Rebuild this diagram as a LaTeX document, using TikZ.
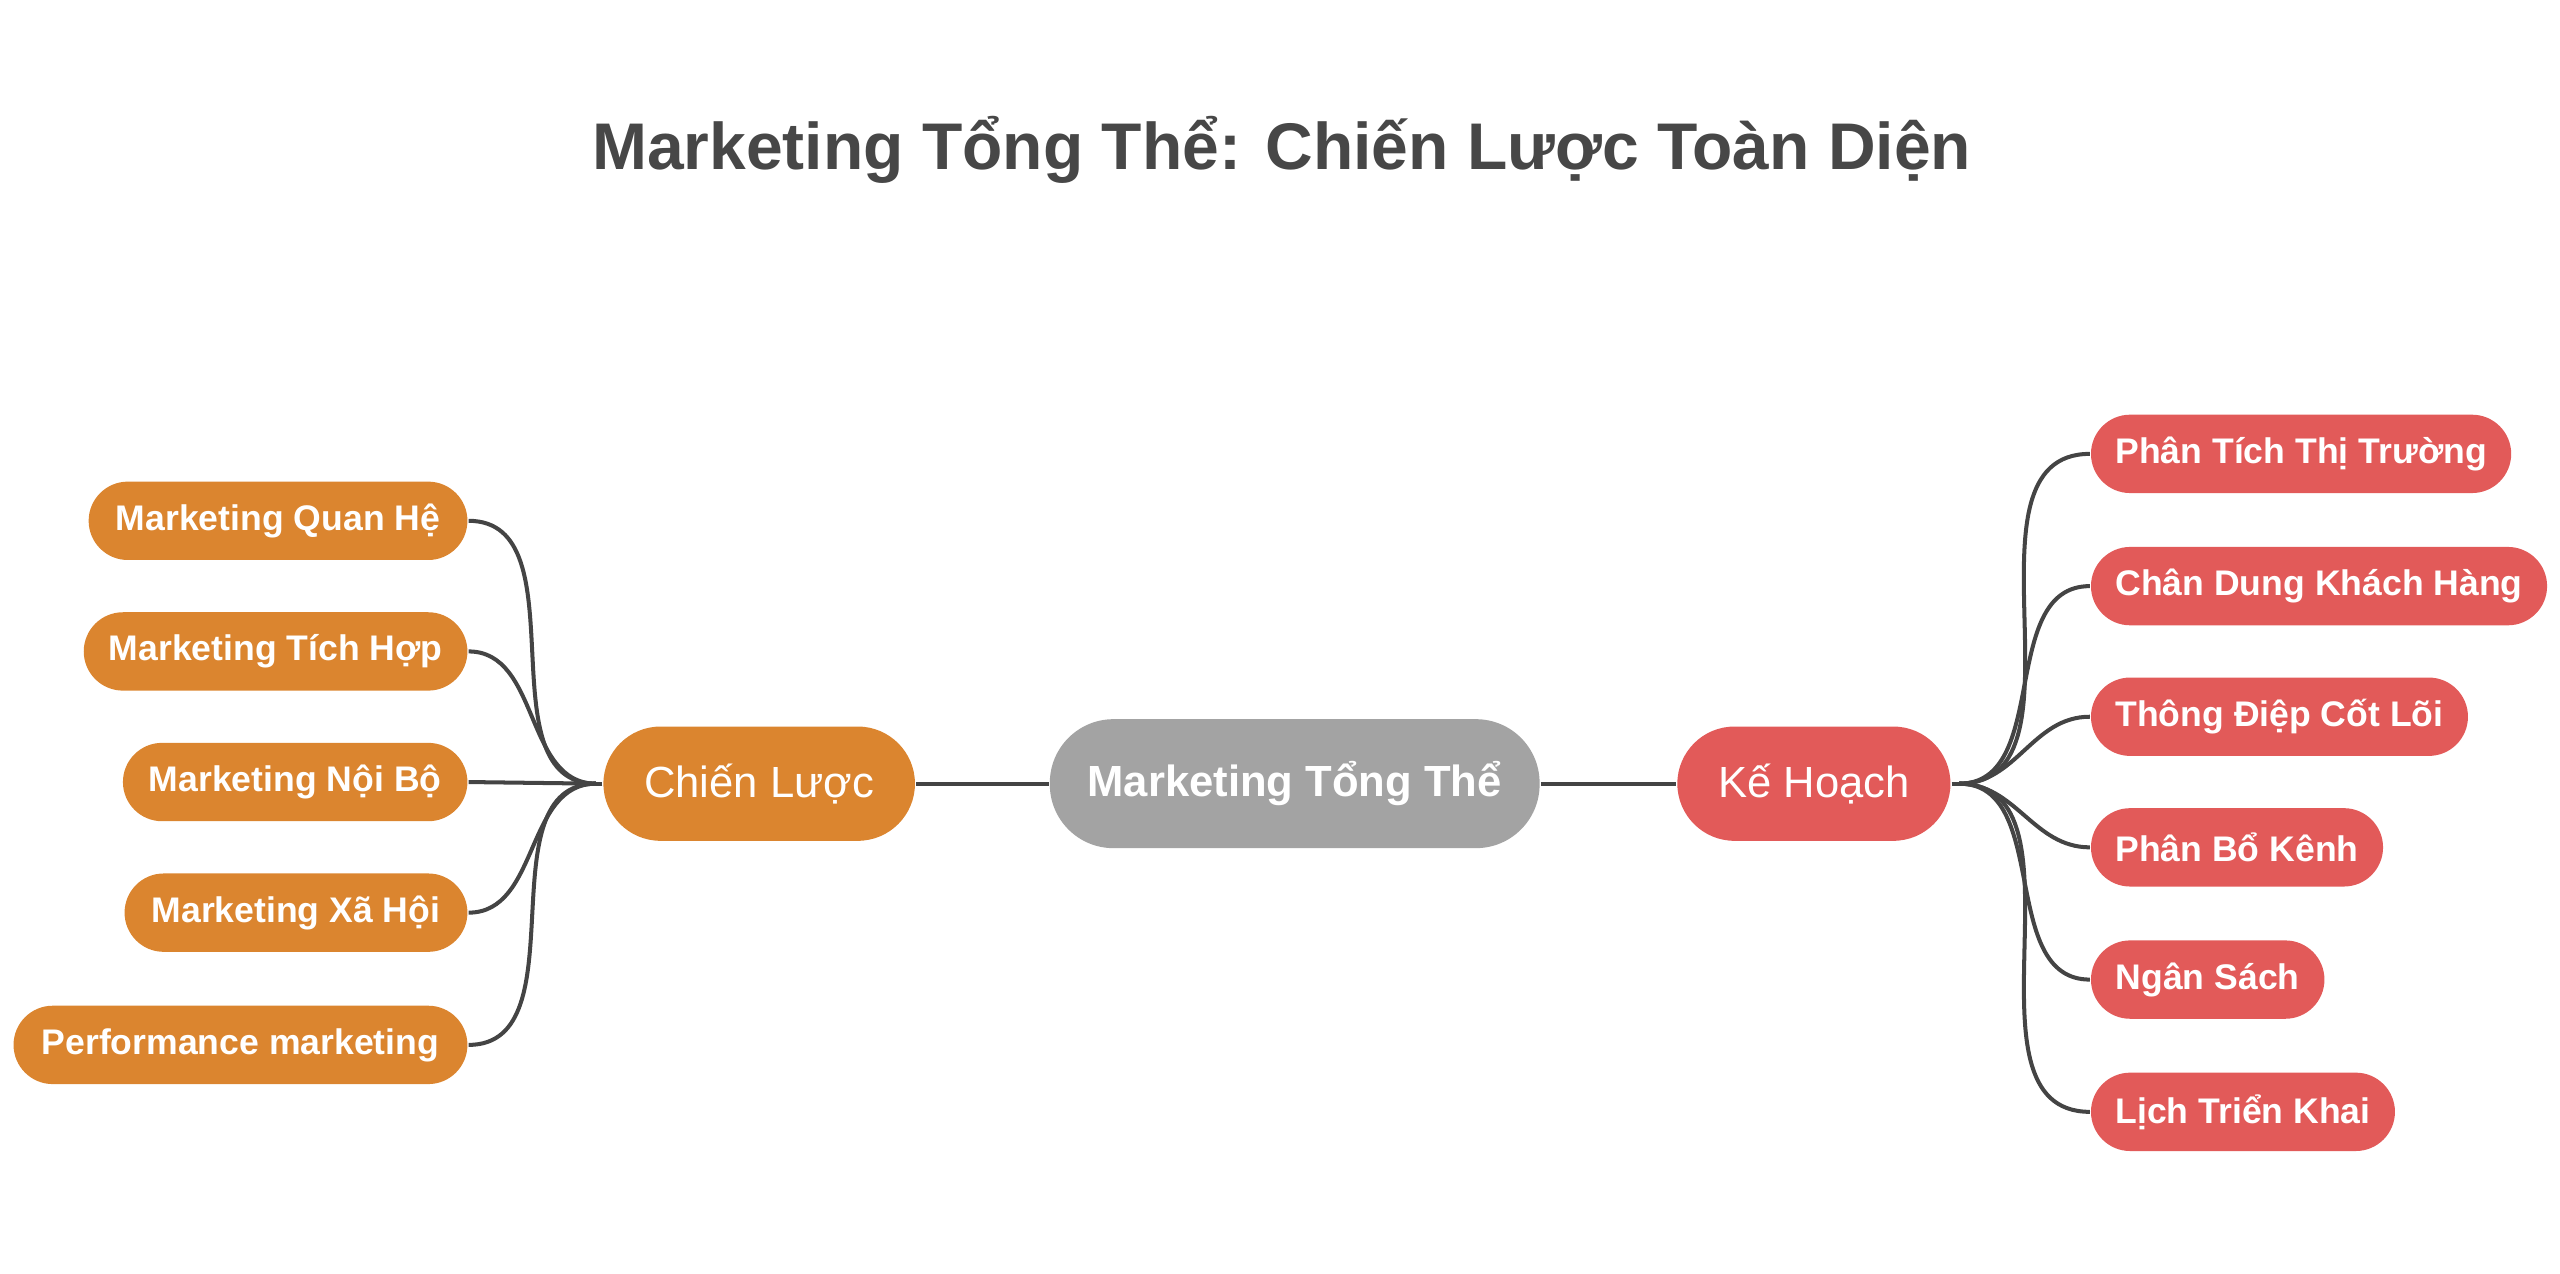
\documentclass[tikz,border=0pt]{standalone}
\usepackage{fontspec}
\setmainfont{Liberation Sans}
\definecolor{grayc}{HTML}{A3A3A3}
\definecolor{orangec}{HTML}{DB852F}
\definecolor{redc}{HTML}{E25A59}
\definecolor{linec}{HTML}{444444}
\definecolor{titlec}{HTML}{474747}

\tikzstyle{mainnode} = [rectangle, rounded corners=0.39cm, minimum width=3cm, minimum height=0.79cm, text centered, fill=grayc, text=white, font=\bfseries\fontsize{7.6}{9}\selectfont]
\tikzstyle{branchnode} = [rectangle, rounded corners=0.35cm, minimum height=0.7cm, inner xsep=0.25cm, text centered, text=white, font=\fontsize{7.6}{9}\selectfont]
\tikzstyle{leafnode} = [rectangle, rounded corners=0.24cm, minimum height=0.48cm, inner xsep=0.15cm, text centered, text=white, font=\bfseries\fontsize{6.2}{7}\selectfont]
\tikzstyle{link} = [draw=linec, line width=0.7pt]

\begin{document}
\begin{tikzpicture}
\useasboundingbox (0,0) rectangle (15.68,-7.80);

\node (title) [text=titlec, font=\bfseries\fontsize{11.5}{13}\selectfont] at (7.85,-0.92) {Marketing Tổng Thể: Chiến Lược Toàn Diện};

\node (main) [mainnode] at (7.93,-4.80) {Marketing Tổng Thể};
\node (strategy) [branchnode, fill=orangec, minimum width=1.84cm] at (4.65,-4.80) {Chiến Lược};
\node (plan) [branchnode, fill=redc, minimum width=1.63cm] at (11.11,-4.80) {Kế Hoạch};

\coordinate (sHub) at (3.65,-4.80);
\coordinate (pHub) at (12.00,-4.80);

% left leaves
\node (s1) [leafnode, fill=orangec, anchor=east, minimum width=2.32cm] at (2.87,-3.19) {Marketing Quan Hệ};
\node (s2) [leafnode, fill=orangec, anchor=east, minimum width=2.35cm] at (2.87,-3.99) {Marketing Tích Hợp};
\node (s3) [leafnode, fill=orangec, anchor=east, minimum width=2.11cm] at (2.87,-4.79) {Marketing Nội Bộ};
\node (s4) [leafnode, fill=orangec, anchor=east, minimum width=2.10cm] at (2.87,-5.59) {Marketing Xã Hội};
\node (s5) [leafnode, fill=orangec, anchor=east, minimum width=2.78cm] at (2.87,-6.40) {Performance marketing};

% right leaves
\node (p1) [leafnode, fill=redc, anchor=west, minimum width=2.52cm] at (12.80,-2.78) {Phân Tích Thị Trường};
\node (p2) [leafnode, fill=redc, anchor=west, minimum width=2.77cm] at (12.80,-3.59) {Chân Dung Khách Hàng};
\node (p3) [leafnode, fill=redc, anchor=west, minimum width=2.28cm] at (12.80,-4.39) {Thông Điệp Cốt Lõi};
\node (p4) [leafnode, fill=redc, anchor=west, minimum width=1.75cm] at (12.80,-5.19) {Phân Bổ Kênh};
\node (p5) [leafnode, fill=redc, anchor=west, minimum width=1.43cm] at (12.80,-6.00) {Ngân Sách};
\node (p6) [leafnode, fill=redc, anchor=west, minimum width=1.82cm] at (12.80,-6.81) {Lịch Triển Khai};

\draw [link] (strategy) -- (main);
\draw [link] (main) -- (plan);
\draw [link] (strategy.west) -- (sHub);
\draw [link] (plan.east) -- (pHub);

\draw [link] (sHub) to[out=180,in=0] (s1.east);
\draw [link] (sHub) to[out=180,in=0] (s2.east);
\draw [link] (sHub) -- (s3.east);
\draw [link] (sHub) to[out=180,in=0] (s4.east);
\draw [link] (sHub) to[out=180,in=0] (s5.east);

\draw [link] (pHub) to[out=0,in=180] (p1.west);
\draw [link] (pHub) to[out=0,in=180] (p2.west);
\draw [link] (pHub) to[out=0,in=180] (p3.west);
\draw [link] (pHub) to[out=0,in=180] (p4.west);
\draw [link] (pHub) to[out=0,in=180] (p5.west);
\draw [link] (pHub) to[out=0,in=180] (p6.west);
\end{tikzpicture}
\end{document}
